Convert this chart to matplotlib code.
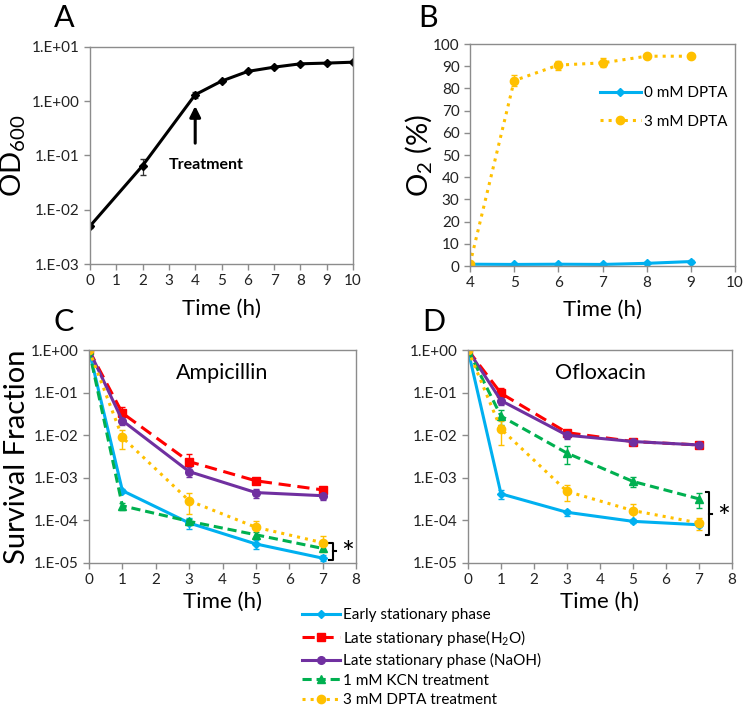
import matplotlib
matplotlib.use("Agg")
import matplotlib.pyplot as plt
from matplotlib.lines import Line2D
from matplotlib.ticker import FixedLocator, FixedFormatter, NullLocator

plt.rcParams['font.family'] = ['Lato', 'DejaVu Sans']
plt.rcParams['mathtext.default'] = 'regular'

# ---------------- data ----------------
# Panel A: growth curve
a_time = [0, 2, 4, 5, 6, 7, 8, 9, 10]
a_od = [0.005, 0.065, 1.32, 2.35, 3.55, 4.25, 4.9, 5.05, 5.25]
a_err = [0.0003, 0.022, 0.15, 0.12, 0.15, 0.15, 0.15, 0.15, 0.15]

# Panel B: O2 (%)
b_time = [4, 5, 6, 7, 8, 9]
b_0mM = [0.8, 0.7, 0.8, 0.7, 1.2, 2.0]
b_0mM_err = [0.3, 0.3, 0.3, 0.3, 0.4, 0.5]
b_3mM = [1.0, 83.5, 90.5, 91.5, 94.5, 94.5]
b_3mM_err = [0.5, 2.5, 2.0, 2.0, 0.8, 0.8]
b_labels = ["0 mM DPTA", "3 mM DPTA"]

# Panels C/D: survival fractions
cd_time = [0, 1, 3, 5, 7]
series_names = ["Early stationary phase", "Late stationary phase(H$_2$O)",
                "Late stationary phase (NaOH)", "1 mM KCN treatment",
                "3 mM DPTA treatment"]

amp_early = [1.0, 5.0e-4, 8.7e-5, 2.8e-5, 1.3e-5]
amp_early_err = [0.02, 0.6e-4, 2.5e-5, 0.7e-5, 0.2e-5]
amp_h2o = [1.0, 3.3e-2, 2.4e-3, 8.5e-4, 5.2e-4]
amp_h2o_err = [0.02, 1.4e-2, 1.2e-3, 1.5e-4, 0.5e-4]
amp_naoh = [1.0, 2.2e-2, 1.4e-3, 4.5e-4, 3.8e-4]
amp_naoh_err = [0.02, 0.5e-2, 0.35e-3, 1.1e-4, 0.8e-4]
amp_kcn = [1.0, 2.2e-4, 9.5e-5, 4.6e-5, 2.2e-5]
amp_kcn_err = [0.02, 0.4e-4, 1.5e-5, 0.6e-5, 0.3e-5]
amp_dpta = [1.0, 8.9e-3, 2.9e-4, 6.9e-5, 3.0e-5]
amp_dpta_err = [0.02, 4.2e-3, 1.5e-4, 2.8e-5, 1.2e-5]

oflx_early = [1.0, 4.2e-4, 1.55e-4, 9.5e-5, 7.9e-5]
oflx_early_err = [0.02, 1.1e-4, 0.25e-4, 1.0e-5, 1.0e-5]
oflx_h2o = [1.0, 9.6e-2, 1.15e-2, 7.1e-3, 5.9e-3]
oflx_h2o_err = [0.02, 3.5e-2, 1.0e-3, 0.6e-3, 0.4e-3]
oflx_naoh = [1.0, 6.5e-2, 1.0e-2, 7.1e-3, 5.9e-3]
oflx_naoh_err = [0.02, 1.5e-2, 0.2e-2, 0.5e-3, 0.4e-3]
oflx_kcn = [1.0, 2.8e-2, 3.8e-3, 8.2e-4, 3.2e-4]
oflx_kcn_err = [0.02, 1.1e-2, 1.7e-3, 2.0e-4, 1.2e-4]
oflx_dpta = [1.0, 1.4e-2, 4.8e-4, 1.7e-4, 8.7e-5]
oflx_dpta_err = [0.02, 8.0e-3, 2.0e-4, 7.0e-5, 2.7e-5]

log_ticks_a = [1e-3, 1e-2, 1e-1, 1e0, 1e1]
log_labels_a = ["1.E-03", "1.E-02", "1.E-01", "1.E+00", "1.E+01"]
log_ticks_cd = [1e-5, 1e-4, 1e-3, 1e-2, 1e-1, 1e0]
log_labels_cd = ["1.E-05", "1.E-04", "1.E-03", "1.E-02", "1.E-01", "1.E+00"]

# ---------------- styles ----------------
BLUE = "#00B0F0"
RED = "#FF0000"
PURPLE = "#7030A0"
GREEN = "#00B050"
YELLOW = "#FFC000"
SPINE = "#8c8c8c"
TICKC = "#222222"

styles = [
    dict(color=BLUE, marker="D", ls="-", ms=4.5, dashes=None),
    dict(color=RED, marker="s", ls="--", ms=5.5, dashes=(4, 2.2)),
    dict(color=PURPLE, marker="o", ls="-", ms=5.5, dashes=None),
    dict(color=GREEN, marker="^", ls="--", ms=5.5, dashes=(3, 1.6)),
    dict(color=YELLOW, marker="o", ls=":", ms=6, dashes=None),
]

fig = plt.figure(figsize=(7.51, 7.09), dpi=100)
W, H = 751, 709


def ax_at(l, t, r, b):
    return fig.add_axes([l / W, 1 - b / H, (r - l) / W, (b - t) / H])


def style_axes(ax):
    for s in ax.spines.values():
        s.set_color(SPINE)
        s.set_linewidth(1.0)
    ax.tick_params(axis='both', which='major', direction='out', length=4,
                   color=SPINE, labelsize=11, labelcolor=TICKC, width=1)
    ax.tick_params(axis='both', which='minor', length=0)


def legend_handle(st):
    h = Line2D([], [], color=st["color"], lw=2.2, ls=st["ls"],
               marker=st["marker"], ms=st["ms"])
    if st["dashes"] is not None:
        h.set_dashes(st["dashes"])
    return h


# ---------------- Panel A ----------------
axA = ax_at(90, 47, 353, 264)
axA.errorbar(a_time, a_od, yerr=a_err, color="black", lw=2.2, marker="D",
             ms=4, capsize=2.5, elinewidth=0.9, ecolor="#333333")
axA.set_yscale("log")
axA.set_ylim(1e-3, 1e1)
axA.set_xlim(0, 10)
axA.yaxis.set_major_locator(FixedLocator(log_ticks_a))
axA.yaxis.set_major_formatter(FixedFormatter(log_labels_a))
axA.yaxis.set_minor_locator(NullLocator())
axA.set_xticks(range(0, 11))
style_axes(axA)
axA.set_xlabel("Time (h)", fontsize=16)
axA.xaxis.set_label_coords(0.5, -(299 - 264) / 217)
axA.set_ylabel("OD$_{600}$", fontsize=21)
axA.yaxis.set_label_coords(-(90 - 28) / 263, 0.5)
axA.annotate("", xy=(4, 0.92), xytext=(4, 0.15),
             arrowprops=dict(arrowstyle="-|>", lw=2.2, color="black",
                             mutation_scale=16))
axA.text(4.4, 0.068, "Treatment", fontsize=11.5, fontweight="bold",
         ha="center", va="center")
fig.text(64 / W, 1 - 18 / H, "A", fontsize=22, ha="center", va="center")

# ---------------- Panel B ----------------
axB = ax_at(470, 44, 735, 266)
axB.errorbar(b_time, b_0mM, yerr=b_0mM_err, color=BLUE, lw=2.2, marker="D",
             ms=4.5, capsize=2.5, elinewidth=1)
axB.errorbar(b_time, b_3mM, yerr=b_3mM_err, color=YELLOW, lw=2.2, ls=":",
             marker="o", ms=6, capsize=2.5, elinewidth=1)
axB.set_xlim(4, 10)
axB.set_ylim(0, 100)
axB.set_xticks(range(4, 11))
axB.set_yticks(range(0, 101, 10))
style_axes(axB)
axB.set_xlabel("Time (h)", fontsize=16)
axB.xaxis.set_label_coords(0.5, -(300 - 266) / 222)
axB.set_ylabel("O$_2$ (%)", fontsize=21)
axB.yaxis.set_label_coords(-(470 - 434) / 265, 0.5)
hB = [Line2D([], [], color=BLUE, lw=2.2, marker="D", ms=4.5),
      Line2D([], [], color=YELLOW, lw=2.2, ls=":", marker="o", ms=6)]
axB.legend(hB, b_labels, loc="upper left", bbox_to_anchor=(0.49, 0.81),
           frameon=False, fontsize=11, handlelength=2.7, handletextpad=0.2,
           labelspacing=0.95, borderaxespad=0, borderpad=0)
fig.text(428 / W, 1 - 18 / H, "B", fontsize=22, ha="center", va="center")


# ---------------- Panels C and D ----------------
def survival_panel(ax, data, title):
    for (vals, errs), st in zip(data, styles):
        kw = dict(color=st["color"], lw=2.2, marker=st["marker"], ms=st["ms"],
                  capsize=2.5, elinewidth=1, capthick=1)
        lower = [min(e, v * 0.6) for v, e in zip(vals, errs)]
        eb = ax.errorbar(cd_time, vals, yerr=[lower, errs], ls=st["ls"], **kw)
        if st["dashes"] is not None:
            eb[0].set_dashes(st["dashes"])
    ax.set_yscale("log")
    ax.set_ylim(1e-5, 1e0)
    ax.set_xlim(0, 8)
    ax.yaxis.set_major_locator(FixedLocator(log_ticks_cd))
    ax.yaxis.set_major_formatter(FixedFormatter(log_labels_cd))
    ax.yaxis.set_minor_locator(NullLocator())
    ax.set_xticks(range(0, 9))
    style_axes(ax)
    ax.set_xlabel("Time (h)", fontsize=16)
    ax.xaxis.set_label_coords(0.5, -(592 - 563) / 213)
    ax.text(0.5, 0.94, title, transform=ax.transAxes, fontsize=15.5,
            ha="center", va="top")


def bracket(ax, x, ytop, ybot, ymid, xstar, ystar):
    hook = 0.1
    ax.plot([x - hook, x, x, x - hook], [ytop, ytop, ybot, ybot],
            color="black", lw=1.5, clip_on=False)
    ax.plot([x, x + 0.1], [ymid, ymid], color="black", lw=1.5, clip_on=False)
    ax.text(xstar, ystar, "*", fontsize=22, ha="center", va="center",
            clip_on=False)


axC = ax_at(89, 350, 356, 563)
survival_panel(axC, [(amp_early, amp_early_err), (amp_h2o, amp_h2o_err),
                     (amp_naoh, amp_naoh_err), (amp_kcn, amp_kcn_err),
                     (amp_dpta, amp_dpta_err)], "Ampicillin")
axC.set_ylabel("Survival Fraction", fontsize=21)
axC.yaxis.set_label_coords(-(89 - 30) / 267, 0.5)
bracket(axC, 7.3, 3.0e-5, 1.2e-5, 1.95e-5, 7.75, 1.6e-5)
fig.text(64 / W, 1 - 322 / H, "C", fontsize=22, ha="center", va="center")

axD = ax_at(468, 350, 732, 563)
survival_panel(axD, [(oflx_early, oflx_early_err), (oflx_h2o, oflx_h2o_err),
                     (oflx_naoh, oflx_naoh_err), (oflx_kcn, oflx_kcn_err),
                     (oflx_dpta, oflx_dpta_err)], "Ofloxacin")
bracket(axD, 7.3, 4.6e-4, 4.6e-5, 1.45e-4, 7.75, 1.15e-4)
fig.text(434 / W, 1 - 322 / H, "D", fontsize=22, ha="center", va="center")

fig.legend(handles=[legend_handle(st) for st in styles], labels=series_names,
           loc="upper left", bbox_to_anchor=(302 / W, 1 - 608 / H),
           frameon=False, fontsize=11, handlelength=2.5, handletextpad=0.2,
           labelspacing=0.36, borderaxespad=0, borderpad=0)

fig.savefig("out.png", dpi=100)
